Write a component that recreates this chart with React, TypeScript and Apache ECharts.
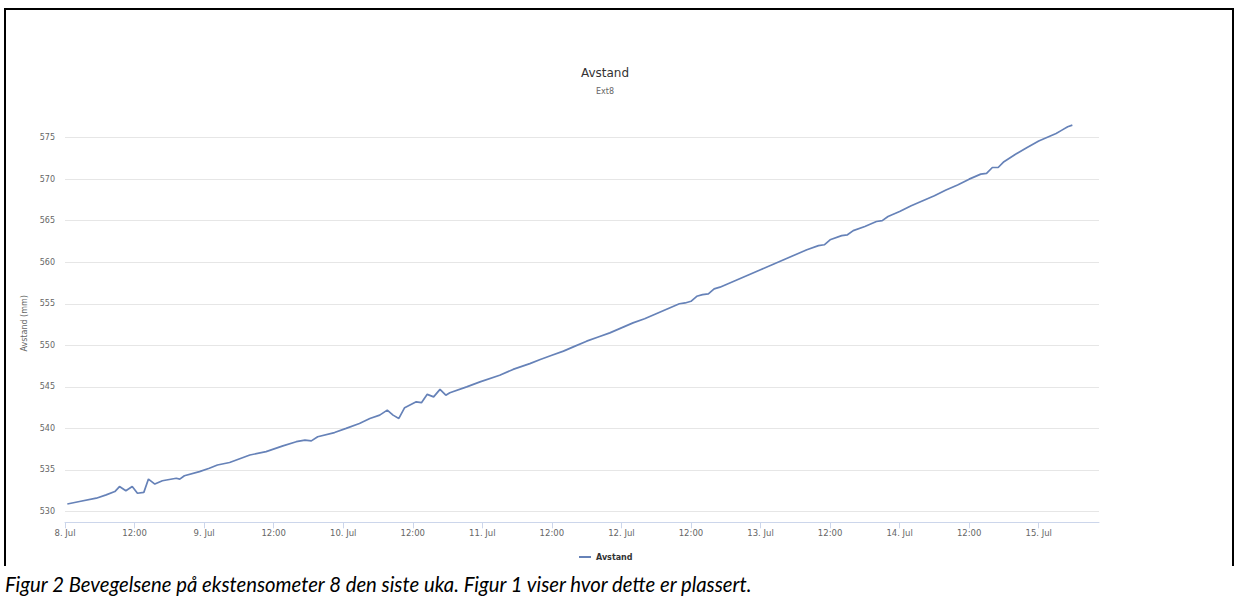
import React, { useEffect, useRef } from "react";
import * as echarts from "echarts";

// Hours after 8. Jul 00:00
const hours = [
  0.4, 2.5, 5.4, 7.1, 8.6, 9.4, 10.5, 11.6, 12.5, 13.6, 14.4, 15.5, 16.8, 19.2, 19.8, 20.6,
  23.2, 24.9, 26.3, 28.4, 31.9, 34.7, 37.6, 39.9, 41.4, 42.5, 43.6, 46.5, 48.5, 50.8, 52.6,
  54.3, 55.6, 56.6, 57.6, 58.6, 60.6, 61.5, 62.5, 63.6, 64.7, 65.7, 66.4, 69.3, 71.6, 75.0,
  77.3, 80.2, 82, 84, 86, 88, 90, 92, 94, 96, 98, 100, 102, 104, 106, 107, 108, 109, 110,
  111, 112, 113, 114, 116, 118, 120, 122, 124, 126, 128, 130, 131, 132, 134, 135, 136, 138,
  140, 141, 142, 144, 146, 148, 150, 152, 154, 156, 158, 159, 160, 161, 162, 164, 166, 168,
  170, 171, 172, 173, 173.8,
];
const avstand = [
  530.9, 531.2, 531.6, 532.0, 532.4, 533.0, 532.5, 533.0, 532.2, 532.3, 533.9, 533.3, 533.7, 534.0, 533.9, 534.3,
  534.8, 535.2, 535.6, 535.9, 536.8, 537.2, 537.9, 538.4, 538.6, 538.5, 539.0, 539.5, 540.0, 540.6, 541.2,
  541.6, 542.2, 541.6, 541.2, 542.5, 543.2, 543.1, 544.1, 543.8, 544.7, 544.0, 544.3, 545.0, 545.6, 546.4,
  547.1, 547.8, 548.3, 548.8, 549.3, 549.9, 550.5, 551.0, 551.5, 552.1, 552.7, 553.2, 553.8, 554.4, 555.0, 555.1, 555.3, 555.9, 556.1,
  556.2, 556.8, 557.0, 557.3, 557.9, 558.5, 559.1, 559.7, 560.3, 560.9, 561.5, 562.0, 562.1, 562.7, 563.2, 563.3, 563.8, 564.3,
  564.9, 565.0, 565.5, 566.1, 566.8, 567.4, 568.0, 568.7, 569.3, 570.0, 570.6, 570.7, 571.4, 571.4, 572.1, 573.0, 573.8, 574.6,
  575.2, 575.5, 575.9, 576.3, 576.5,
];
const xTickHours = [0, 12, 24, 36, 48, 60, 72, 84, 96, 108, 120, 132, 144, 156, 168];
const yTicks = [530, 535, 540, 545, 550, 555, 560, 565, 570, 575];

const caption = "Figur 2 Bevegelsene på ekstensometer 8 den siste uka. Figur 1 viser hvor dette er plassert.";

function xLabel(v: number): string {
  if (v % 24 === 0) return `${8 + v / 24}. Jul`;
  return "12:00";
}

export default function App() {
  const ref = useRef<HTMLDivElement>(null);
  useEffect(() => {
    if (!ref.current) return;
    const chart = echarts.init(ref.current, null, { renderer: "svg" });
    const font = "DejaVu Sans";
    chart.setOption({
      animation: false,
      backgroundColor: "#ffffff",
      textStyle: { fontFamily: font },
      title: {
        text: "Avstand",
        subtext: "Ext8",
        left: 600,
        top: 62,
        textAlign: "center",
        itemGap: 8,
        textStyle: { fontSize: 12, color: "#333333", fontWeight: "normal", fontFamily: font },
        subtextStyle: { fontSize: 8, color: "#666666", fontFamily: font },
      },
      legend: {
        data: [{ name: "Avstand", icon: "rect" }],
        left: 574,
        top: 548,
        itemWidth: 12,
        itemHeight: 2,
        itemGap: 5,
        textStyle: { fontSize: 8, fontWeight: "bold", color: "#333333", fontFamily: font },
      },
      grid: { left: 65, right: 138, top: 124.3, bottom: 76.7, containLabel: false },
      xAxis: {
        type: "value",
        min: 0,
        max: 178.4,
        minInterval: 12,
        maxInterval: 12,
        axisLine: { show: true, lineStyle: { color: "#ccd6eb", width: 1 } },
        axisTick: { show: true, length: 6, lineStyle: { color: "#ccd6eb" }, customValues: xTickHours },
        axisLabel: {
          customValues: xTickHours,
          formatter: xLabel,
          fontSize: 8.5,
          color: "#666666",
          margin: 6,
          fontFamily: font,
        },
        splitLine: { show: false },
      },
      yAxis: {
        type: "value",
        min: 528.7,
        max: 576.6,
        minInterval: 5,
        maxInterval: 5,
        name: "Avstand (mm)",
        nameLocation: "middle",
        nameGap: 29,
        nameRotate: 90,
        nameTextStyle: { fontSize: 8, color: "#666666", fontFamily: font },
        axisLine: { show: false },
        axisTick: { show: false },
        axisLabel: {
          customValues: yTicks,
          fontSize: 8,
          color: "#666666",
          margin: 10,
          fontFamily: font,
        },
        splitLine: { show: true, showMinLine: false, showMaxLine: false, lineStyle: { color: "#e6e6e6", width: 1 } },
      },
      series: [
        {
          name: "Avstand",
          type: "line",
          data: hours.map((h, i) => [h, avstand[i]]),
          showSymbol: false,
          symbol: "none",
          clip: false,
          lineStyle: { color: "#6682b8", width: 1.7 },
          itemStyle: { color: "#6682b8" },
        },
      ],
      graphic: [
        { type: "line", shape: { x1: 4, y1: 9, x2: 1234, y2: 9 }, style: { stroke: "#000", lineWidth: 2 } },
        { type: "line", shape: { x1: 5, y1: 9, x2: 5, y2: 566 }, style: { stroke: "#000", lineWidth: 2 } },
        { type: "line", shape: { x1: 1233, y1: 9, x2: 1233, y2: 566 }, style: { stroke: "#000", lineWidth: 2 } },
        {
          type: "text",
          x: 5,
          y: 584,
          style: {
            text: caption,
            fontFamily: "Lato",
            fontStyle: "italic",
            fontSize: 20.3,
            fill: "#000000",
            textVerticalAlign: "middle",
          },
        },
      ],
    });
    return () => chart.dispose();
  }, []);
  return <div ref={ref} style={{ position: "absolute", left: 0, top: 0, width: 1237, height: 599 }} />;
}
